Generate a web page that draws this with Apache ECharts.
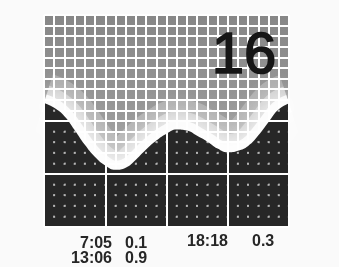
<!DOCTYPE html>
<html>
<head>
<meta charset="utf-8">
<script src="https://cdn.jsdelivr.net/npm/echarts@6/dist/echarts.min.js"></script>
<style>
  html, body { margin: 0; padding: 0; background: #fafafa; }
  #chart { width: 339px; height: 267px; }
</style>
</head>
<body>
<div id="chart"></div>
<script>
// tide level, read hour by hour off the picture (grid units, 0 = bottom)
const hours = [0, 1, 2, 3, 4, 5, 6, 7, 8, 9, 10, 11, 12, 13, 14, 15, 16, 17, 18, 19, 20, 21, 22, 23, 24]
const tideLevel = [2.34, 2.25, 2.09, 1.83, 1.55, 1.32, 1.16, 1.08, 1.12, 1.27, 1.46, 1.63, 1.76, 1.84,
  1.82, 1.72, 1.61, 1.48, 1.41, 1.44, 1.53, 1.73, 1.98, 2.22, 2.33]
const dayNumber = '16'
const lowTimes = ['7:05', '13:06']
const lowHeights = ['0.1', '0.9']
const highTimes = ['18:18']
const highHeights = ['0.3']

const tide = hours.map((h, i) => [h, tideLevel[i]])
const skyTop = hours.map(h => [h, 4])

const chart = echarts.init(document.getElementById('chart'))

const font = '"Liberation Sans", Arial, sans-serif'
const labelStyle = { fill: '#262626', font: 'bold 16px ' + font }

const xBase = { type: 'value', min: 0, max: 24, interval: 6,
  axisLine: { show: false }, axisTick: { show: false }, axisLabel: { show: false } }
const yBase = { type: 'value', min: 0, max: 4, interval: 1,
  axisLine: { show: false }, axisTick: { show: false }, axisLabel: { show: false } }

// plot is 245 x 212 px -> minor cells ~10.2 x 10.6
const dotV = { color: 'rgba(255,255,255,0.55)', width: 1.5, type: [2, 8.6], dashOffset: 1 }
const dotH = { color: 'rgba(255,255,255,0.55)', width: 1.5, type: [2, 8.2], dashOffset: 1 }

// glow bands along the waterline (wide + faint -> narrow + solid)
const glow = [
  { width: 60, color: 'rgba(255,255,255,0.25)', blur: 30 },
  { width: 36, color: 'rgba(255,255,255,0.4)', blur: 24 },
  { width: 18, color: 'rgba(255,255,255,0.85)', blur: 16 }
]

chart.setOption({
  animation: false,
  backgroundColor: '#fafafa',
  grid: { left: 44, right: 50, top: 15, bottom: 40 },
  xAxis: [
    // under the dark fill: solid white minor lines
    Object.assign({}, xBase, { z: 2,
      splitLine: { show: true, lineStyle: { color: '#fff', width: 2 } },
      minorTick: { show: false, splitNumber: 6 },
      minorSplitLine: { show: true, lineStyle: { color: '#fff', width: 2 } } }),
    // above everything: major lines + dotted minor
    Object.assign({}, xBase, { z: 6, gridIndex: 0,
      splitLine: { show: true, lineStyle: { color: '#fff', width: 2 } },
      minorTick: { show: false, splitNumber: 6 },
      minorSplitLine: { show: true, lineStyle: dotV } })
  ],
  yAxis: [
    Object.assign({}, yBase, { z: 2,
      splitLine: { show: true, lineStyle: { color: '#fff', width: 2 } },
      minorTick: { show: false, splitNumber: 5 },
      minorSplitLine: { show: true, lineStyle: { color: '#fff', width: 2 } } }),
    Object.assign({}, yBase, { z: 6, gridIndex: 0,
      splitLine: { show: true, lineStyle: { color: '#fff', width: 2 } },
      minorTick: { show: false, splitNumber: 5 },
      minorSplitLine: { show: true, lineStyle: dotH } })
  ],
  series: [
    {
      // grey sky above the water
      type: 'line', data: skyTop, symbol: 'none', z: 1,
      lineStyle: { width: 0 },
      areaStyle: { opacity: 1, color: new echarts.graphic.LinearGradient(0, 0, 0, 1, [
        { offset: 0, color: '#878787' },
        { offset: 0.5, color: '#999999' },
        { offset: 1, color: '#b4b4b4' }
      ]) }
    },
    ...glow.map((g, i) => ({
      type: 'line', data: tide, smooth: true, symbol: 'none', z: 1.2 + i * 0.1,
      lineStyle: { color: g.color, width: g.width, shadowBlur: g.blur, shadowColor: g.color }
    })),
    {
      // the water
      type: 'line', data: tide, smooth: true, symbol: 'none', z: 3,
      lineStyle: { width: 0 },
      areaStyle: { opacity: 1, color: '#272727', origin: 'start' },
      markArea: {
        silent: true,
        itemStyle: { color: '#111111' },
        data: [[{ yAxis: 0 }, { yAxis: 0.13 }]]
      }
    }
  ],
  graphic: [
    { type: 'text', right: 62, top: 27, z: 10,
      style: { text: dayNumber, fill: '#161616', stroke: '#161616', lineWidth: 1.6, font: '58px ' + font } },
    { type: 'text', x: 112, y: 244, z: 10,
      style: Object.assign({ text: lowTimes[0], align: 'right', verticalAlign: 'middle' }, labelStyle) },
    { type: 'text', x: 112, y: 259, z: 10,
      style: Object.assign({ text: lowTimes[1], align: 'right', verticalAlign: 'middle' }, labelStyle) },
    { type: 'text', x: 125, y: 244, z: 10,
      style: Object.assign({ text: lowHeights[0], align: 'left', verticalAlign: 'middle' }, labelStyle) },
    { type: 'text', x: 125, y: 259, z: 10,
      style: Object.assign({ text: lowHeights[1], align: 'left', verticalAlign: 'middle' }, labelStyle) },
    { type: 'text', x: 187, y: 242, z: 10,
      style: Object.assign({ text: highTimes[0], align: 'left', verticalAlign: 'middle' }, labelStyle) },
    { type: 'text', x: 252, y: 242, z: 10,
      style: Object.assign({ text: highHeights[0], align: 'left', verticalAlign: 'middle' }, labelStyle) }
  ]
})
</script>
</body>
</html>
